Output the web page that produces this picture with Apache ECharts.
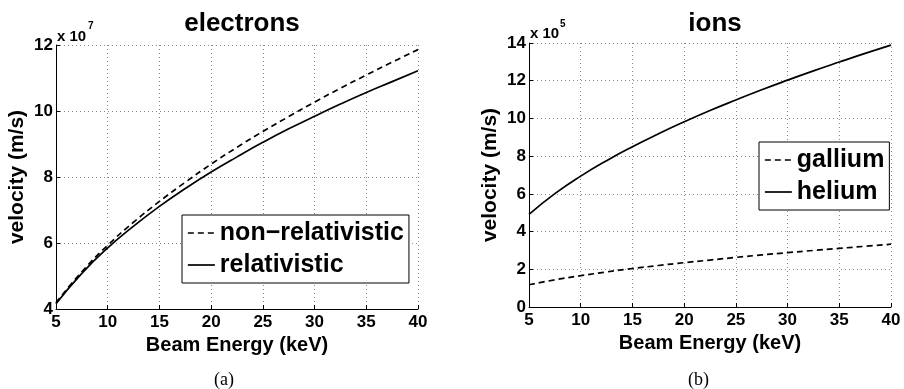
<!DOCTYPE html>
<html>
<head>
<meta charset="utf-8">
<script src="https://cdn.jsdelivr.net/npm/echarts@6/dist/echarts.min.js"></script>
<style>
html,body{margin:0;padding:0;background:#fff;}
#chart{width:904px;height:389px;}
</style>
</head>
<body>
<div id="chart"></div>
<script>
// Beam energy (keV)
const energy = [5, 7.5, 10, 12.5, 15, 17.5, 20, 22.5, 25, 27.5, 30, 32.5, 35, 37.5, 40];
// Electron velocity (x 10^7 m/s)
const electronNonRel = [4.19, 5.13, 5.93, 6.63, 7.26, 7.84, 8.39, 8.90, 9.38, 9.83, 10.27, 10.69, 11.09, 11.48, 11.86];
const electronRel = [4.16, 5.08, 5.85, 6.51, 7.11, 7.65, 8.15, 8.61, 9.05, 9.46, 9.84, 10.21, 10.56, 10.89, 11.22];
// Ion velocity (x 10^5 m/s)
const gallium = [1.18, 1.44, 1.66, 1.86, 2.04, 2.20, 2.35, 2.49, 2.63, 2.76, 2.88, 3.00, 3.11, 3.22, 3.33];
const helium = [4.91, 6.01, 6.94, 7.76, 8.50, 9.18, 9.82, 10.42, 10.98, 11.52, 12.03, 12.52, 12.99, 13.45, 13.89];

const titles = ['electrons', 'ions'];
const legendNames = [['non\u2212relativistic', 'relativistic'], ['gallium', 'helium']];
const exponents = ['7', '5'];
const captions = ['(a)', '(b)'];
const xTitle = 'Beam Energy (keV)';
const yTitle = 'velocity (m/s)';

const pairs = (ys) => energy.map((x, i) => [x, ys[i]]);
const FONT = '"Liberation Sans", Arial, Helvetica, sans-serif';

function xAxis(gi) {
  return {
    type: 'value', gridIndex: gi, min: 5, max: 40, interval: 5,
    name: xTitle, nameLocation: 'middle', nameGap: 21,
    nameTextStyle: {fontFamily: FONT, fontWeight: 'bold', fontSize: 20, color: '#000'},
    axisLine: {show: true, lineStyle: {color: '#000', width: 1}},
    axisTick: {show: true, inside: true, length: 4, lineStyle: {color: '#000'}},
    axisLabel: {margin: 5, fontFamily: FONT, fontWeight: 'bold', fontSize: 17, color: '#000'},
    splitLine: {show: true, lineStyle: {color: '#8a8a8a', type: [1, 3], width: 1}}
  };
}
function yAxis(gi, min, max) {
  return {
    type: 'value', gridIndex: gi, min: min, max: max, interval: 2,
    name: yTitle, nameLocation: 'middle', nameGap: 28,
    nameTextStyle: {fontFamily: FONT, fontWeight: 'bold', fontSize: 21, color: '#000'},
    axisLine: {show: true, lineStyle: {color: '#000', width: 1}},
    axisTick: {show: true, inside: true, length: 4, lineStyle: {color: '#000'}},
    axisLabel: {margin: 3, fontFamily: FONT, fontWeight: 'bold', fontSize: 17, color: '#000'},
    splitLine: {show: true, lineStyle: {color: '#8a8a8a', type: [1, 3], width: 1}}
  };
}
function line(name, data, gi, dashed) {
  return {
    type: 'line', name: name, xAxisIndex: gi, yAxisIndex: gi,
    data: data, smooth: true, symbol: 'none', showSymbol: false,
    lineStyle: {color: '#000', width: 1.7, type: dashed ? [6, 4] : 'solid'},
    itemStyle: {color: '#000'},
    animation: false
  };
}
function legend(names, left, top) {
  return {
    data: names.map(n => ({name: n})),
    orient: 'vertical', left: left, top: top,
    itemWidth: 27, itemHeight: 14, itemGap: 2,
    padding: [3, 5, 3, 5],
    borderColor: '#000', borderWidth: 1, backgroundColor: '#fff',
    itemStyle: {opacity: 0, borderWidth: 0},
    lineStyle: {width: 1.7},
    textStyle: {fontFamily: FONT, fontWeight: 'bold', fontSize: 25, color: '#000', lineHeight: 30},
    selectedMode: false
  };
}

const chart = echarts.init(document.getElementById('chart'), null, {renderer: 'canvas'});
chart.setOption({
  animation: false,
  backgroundColor: '#fff',
  title: [
    {text: titles[0], left: 237, top: 6, textAlign: 'center',
     textStyle: {fontFamily: FONT, fontWeight: 'bold', fontSize: 26, color: '#000'}},
    {text: titles[1], left: 710, top: 6, textAlign: 'center',
     textStyle: {fontFamily: FONT, fontWeight: 'bold', fontSize: 26, color: '#000'}}
  ],
  grid: [
    {left: 56, right: 486, top: 45, bottom: 80},
    {left: 529, right: 13, top: 43, bottom: 82}
  ],
  xAxis: [xAxis(0), xAxis(1)],
  yAxis: [yAxis(0, 4, 12), yAxis(1, 0, 14)],
  legend: [legend(legendNames[0], 182, 215), legend(legendNames[1], 759, 142)],
  series: [
    line(legendNames[0][0], pairs(electronNonRel), 0, true),
    line(legendNames[0][1], pairs(electronRel), 0, false),
    line(legendNames[1][0], pairs(gallium), 1, true),
    line(legendNames[1][1], pairs(helium), 1, false)
  ],
  graphic: [
    {type: 'text', left: 57, top: 29, style: {text: 'x 10', font: 'bold 15px ' + FONT, fill: '#000'}},
    {type: 'text', left: 88, top: 21, style: {text: exponents[0], font: 'bold 10px ' + FONT, fill: '#000'}},
    {type: 'text', left: 530, top: 26, style: {text: 'x 10', font: 'bold 15px ' + FONT, fill: '#000'}},
    {type: 'text', left: 560, top: 19, style: {text: exponents[1], font: 'bold 10px ' + FONT, fill: '#000'}},
    {type: 'text', left: 214, top: 371, style: {text: captions[0], font: '18px "Liberation Serif", "DejaVu Serif", serif', fill: '#000'}},
    {type: 'text', left: 688, top: 371, style: {text: captions[1], font: '18px "Liberation Serif", "DejaVu Serif", serif', fill: '#000'}}
  ]
});
</script>
</body>
</html>
